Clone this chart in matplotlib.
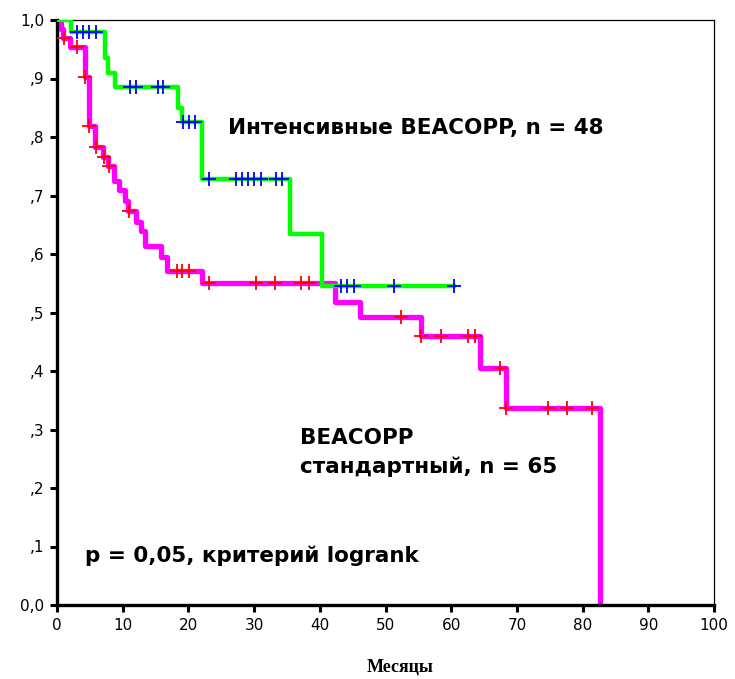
import matplotlib
matplotlib.use("Agg")
import matplotlib.pyplot as plt
import numpy as np

# Интенсивные BEACOPP (n = 48): step times and survival
g_t = [0, 2.2, 7.3, 7.8, 8.8, 18.4, 19.1, 22.1, 35.4, 40.4, 60.4]
g_s = [1.0, 0.979, 0.935, 0.91, 0.885, 0.85, 0.826, 0.728, 0.635, 0.545, 0.545]
g_cens = [3.0, 3.9, 4.9, 6.0, 11.1, 12.0, 15.4, 16.1, 19.2, 20.1, 21.0,
          23.1, 27.2, 28.1, 29.0, 30.0, 31.1, 33.3, 34.3,
          43.3, 44.1, 45.2, 51.3, 60.4]

# BEACOPP стандартный (n = 65)
m_t = [0, 0.6, 0.9, 2.0, 4.2, 4.8, 5.8, 7.0, 7.8, 8.7, 9.4, 10.3, 10.8,
       12.1, 12.8, 13.4, 15.9, 16.7, 22.0, 42.3, 46.1, 55.4, 64.4, 68.4, 82.6]
m_s = [1.0, 0.985, 0.969, 0.954, 0.903, 0.818, 0.783, 0.766, 0.75, 0.725,
       0.71, 0.69, 0.673, 0.655, 0.64, 0.614, 0.595, 0.571, 0.55, 0.518,
       0.492, 0.459, 0.405, 0.336, 0.0]
m_cens = [1.0, 3.0, 4.2, 4.9, 6.0, 7.2, 7.9, 11.0, 18.2, 19.1, 20.1,
          23.1, 30.3, 33.2, 37.1, 38.3, 52.4, 55.4, 58.5, 62.6, 63.6,
          67.5, 68.4, 74.8, 77.6, 81.4]

x_ticks = list(range(0, 101, 10))
y_ticks = [i / 10 for i in range(11)]
y_labels = ["0,0", ",1", ",2", ",3", ",4", ",5", ",6", ",7", ",8", ",9", "1,0"]


def surv_at(t, s, c):
    idx = np.searchsorted(t, c, side="right") - 1
    return np.array(s)[idx]


fig = plt.figure(figsize=(7.35, 6.79), dpi=100)
ax = fig.add_axes([57 / 735, 1 - 605 / 679, (714 - 57) / 735, (605 - 20) / 679])

ax.step(m_t, m_s, where="post", color="#ff00ff", lw=3.8, zorder=2)
ax.step(g_t, g_s, where="post", color="#00ff00", lw=3.2, zorder=3)
ax.plot(m_cens, surv_at(m_t, m_s, m_cens), ls="none", marker="+",
        ms=10, mew=1.3, color="#ff0000", zorder=4)
ax.plot(g_cens, surv_at(g_t, g_s, g_cens), ls="none", marker="+",
        ms=10, mew=1.3, color="#0000ff", zorder=5)

ax.set_xlim(0, 100)
ax.set_ylim(0, 1)
ax.set_xticks(x_ticks)
ax.set_xticklabels([str(v) for v in x_ticks])
ax.set_yticks(y_ticks)
ax.set_yticklabels(y_labels)
ax.tick_params(axis="both", direction="out", length=5, width=2.2,
               labelsize=11, pad=4)
for side in ["left", "bottom"]:
    ax.spines[side].set_linewidth(2.4)
for side in ["top", "right"]:
    ax.spines[side].set_linewidth(0.9)

bold = dict(fontsize=15.5, fontweight="bold", family="DejaVu Sans",
            va="center", ha="left")
ax.text(26.0, 0.815, "Интенсивные BEACOPP, n = 48", **bold)
ax.text(37.0, 0.285, "BEACOPP", **bold)
ax.text(37.0, 0.236, "стандартный, n = 65", **bold)
ax.text(4.3, 0.085, "p = 0,05, критерий logrank", **bold)

fig.text(400 / 735, 1 - 667 / 679, "Месяцы", ha="center", va="center",
         fontsize=13, fontweight="bold", family="Liberation Serif")

fig.savefig("out.png", dpi=100)
